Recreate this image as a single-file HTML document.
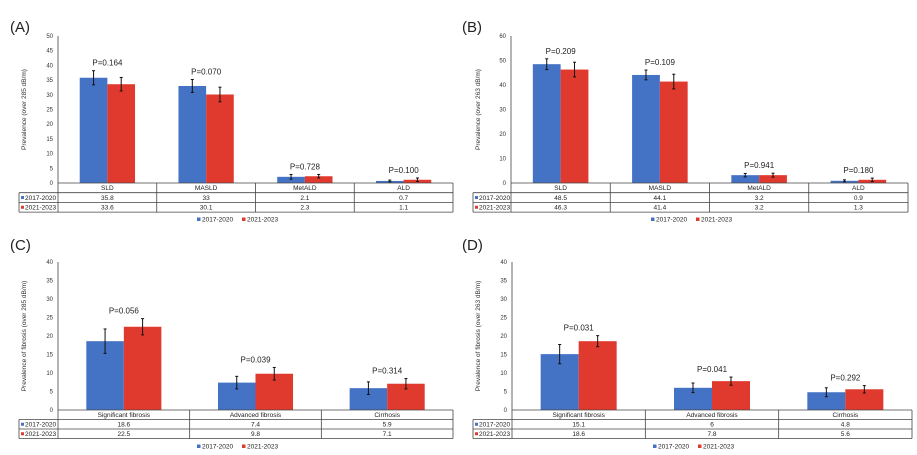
<!DOCTYPE html>
<html><head><meta charset="utf-8"><style>
body{margin:0;background:#fff;width:917px;height:455px;overflow:hidden;font-family:"Liberation Sans",sans-serif}
svg{display:block}
</style></head><body>
<svg id="fig" width="917" height="455" font-family="Liberation Sans, sans-serif"></svg>
<script>
const NS="http://www.w3.org/2000/svg";
const seriesNames=["2017-2020","2021-2023"];
const catsAB=["SLD","MASLD","MetALD","ALD"];
const catsCD=["Significant fibrosis","Advanced fibrosis","Cirrhosis"];
const aBlue=[35.8,33,2.1,0.7], aRed=[33.6,30.1,2.3,1.1];
const aBlueErr=[2.4,2.2,0.8,0.3], aRedErr=[2.3,2.5,0.6,0.6];
const aP=["P=0.164","P=0.070","P=0.728","P=0.100"];
const aLabels=["35.8","33","2.1","0.7"], aLabels2=["33.6","30.1","2.3","1.1"];
const bBlue=[48.5,44.1,3.2,0.9], bRed=[46.3,41.4,3.2,1.3];
const bBlueErr=[2.2,2,0.7,0.4], bRedErr=[3,3,0.8,0.7];
const bP=["P=0.209","P=0.109","P=0.941","P=0.180"];
const bLabels=["48.5","44.1","3.2","0.9"], bLabels2=["46.3","41.4","3.2","1.3"];
const cBlue=[18.6,7.4,5.9], cRed=[22.5,9.8,7.1];
const cBlueErr=[3.3,1.7,1.7], cRedErr=[2.2,1.7,1.4];
const cP=["P=0.056","P=0.039","P=0.314"];
const cLabels=["18.6","7.4","5.9"], cLabels2=["22.5","9.8","7.1"];
const dBlue=[15.1,6,4.8], dRed=[18.6,7.8,5.6];
const dBlueErr=[2.6,1.3,1.2], dRedErr=[1.5,1.1,1.0];
const dP=["P=0.031","P=0.041","P=0.292"];
const dLabels=["15.1","6","4.8"], dLabels2=["18.6","7.8","5.6"];
const ticksA=[0,5,10,15,20,25,30,35,40,45,50];
const ticksB=[0,10,20,30,40,50,60];
const ticksCD=[0,5,10,15,20,25,30,35,40];
const svg=document.getElementById('fig');
function el(tag,attrs,parent,text){const e=document.createElementNS(NS,tag);for(const k in attrs)e.setAttribute(k,attrs[k]);if(text!==undefined)e.textContent=text;(parent||svg).appendChild(e);return e;}
function panel(o){
  const g=el('g',{});
  
  
  const maxV=o.ticks[o.ticks.length-1];
  const y=v=>o.y0-(v/maxV)*(o.y0-o.yTop);
  const n=o.cats.length, cw=(o.xR-o.x0)/n;
  const lab=el('text',{x:o.lx,y:o.ly,'font-size':15,fill:'#222'},g,'('+o.id+')');
  
  o.ticks.forEach(t=>{const tx=el('text',{x:o.x0-5,y:y(t)+2,'font-size':6,'text-anchor':'end',fill:'#333'},g,t);
    });
  el('line',{x1:o.x0,y1:o.yTop,x2:o.x0,y2:o.y0,stroke:'#444','stroke-width':0.8},g);
  const yt=el('text',{transform:`translate(${o.titleX},${(o.yTop+o.y0)/2}) rotate(-90)`,'font-size':6.5,'text-anchor':'middle',fill:'#333'},g,o.title);
  
  const bw=cw*o.bf, off=(cw-2*bw)/2;
  o.cats.forEach((c,i)=>{
    const cx=o.x0+i*cw;
    [[o.blue,o.blueErr,'#4472c4'],[o.red,o.redErr,'#e03a2f']].forEach((s,j)=>{
      const bx=cx+off+j*bw, v=s[0][i];
      const r=el('rect',{x:bx,y:y(v),width:bw,height:o.y0-y(v),fill:s[2]},g);
      
      
      const ex=bx+bw/2, e=s[1][i];
      el('line',{x1:ex,y1:y(v+e),x2:ex,y2:y(v-e),stroke:'#111','stroke-width':1},g);
      el('line',{x1:ex-1.5,y1:y(v+e),x2:ex+1.5,y2:y(v+e),stroke:'#111','stroke-width':1},g);
      el('line',{x1:ex-1.5,y1:y(v-e),x2:ex+1.5,y2:y(v-e),stroke:'#111','stroke-width':1},g);
    });
    const top=Math.min(y(o.blue[i]+o.blueErr[i]),y(o.red[i]+o.redErr[i]));
    const p=el('text',{x:cx+cw/2,y:top-5,'font-size':8,'text-anchor':'middle',fill:'#222'},g,o.p[i]);
    
  });
  // table
  const r1=o.y0+o.rh, r2=r1+o.rh, r3=r2+o.rh;
  const st={stroke:'#444','stroke-width':0.8};
  el('line',Object.assign({x1:o.x0,y1:o.y0,x2:o.xR,y2:o.y0},st),g);
  [r1,r2,r3].forEach(yy=>el('line',Object.assign({x1:o.tl,y1:yy,x2:o.xR,y2:yy},st),g));
  el('line',Object.assign({x1:o.tl,y1:r1,x2:o.tl,y2:r3},st),g);
  for(let i=0;i<=n;i++){const xx=o.x0+i*cw;el('line',Object.assign({x1:xx,y1:o.y0,x2:xx,y2:r3},st),g);}
  o.cats.forEach((c,i)=>{const xm=o.x0+i*cw+cw/2;
    const t=el('text',{x:xm,y:o.y0+o.rh-2.5,'font-size':6.5,'text-anchor':'middle',fill:'#222'},g,c);
    
    el('text',{x:xm,y:r1+o.rh-2.5,'font-size':6.5,'text-anchor':'middle',fill:'#222'},g,o.l1[i]);
    el('text',{x:xm,y:r2+o.rh-2.5,'font-size':6.5,'text-anchor':'middle',fill:'#222'},g,o.l2[i]);
  });
  [['#4472c4',r1],['#e03a2f',r2]].forEach((s,j)=>{
    el('rect',{x:o.tl+2,y:s[1]+o.rh/2-1.5,width:3,height:3,fill:s[0]},g);
    el('text',{x:o.tl+6,y:s[1]+o.rh-2.5,'font-size':6.5,fill:'#222'},g,seriesNames[j]);
  });
  // legend
  const lg=el('g',{},g);
  
  const lx=o.legX;
  [['#4472c4',lx],['#e03a2f',lx+45]].forEach((s,j)=>{
    el('rect',{x:s[1],y:o.legY-2.5,width:3.5,height:3.5,fill:s[0]},lg);
    const t=el('text',{x:s[1]+5,y:o.legY+1.5,'font-size':6.5,fill:'#222'},lg,seriesNames[j]);
    
  });
}
panel({id:'A',cats:catsAB,blue:aBlue,red:aRed,blueErr:aBlueErr,redErr:aRedErr,p:aP,l1:aLabels,l2:aLabels2,ticks:ticksA,
  x0:58,xR:453,yTop:36,y0:183,rh:9.7,tl:19,lx:10,ly:32,titleX:26,title:'Prevalence (over 285 dB/m)',bf:0.28,legX:197,legY:220});
panel({id:'B',cats:catsAB,blue:bBlue,red:bRed,blueErr:bBlueErr,redErr:bRedErr,p:bP,l1:bLabels,l2:bLabels2,ticks:ticksB,
  x0:511,xR:908,yTop:36,y0:183,rh:9.7,tl:473,lx:462,ly:32,titleX:480,title:'Prevalence (over 263 dB/m)',bf:0.28,legX:651,legY:220});
panel({id:'C',cats:catsCD,blue:cBlue,red:cRed,blueErr:cBlueErr,redErr:cRedErr,p:cP,l1:cLabels,l2:cLabels2,ticks:ticksCD,
  x0:58,xR:453,yTop:262,y0:410,rh:9.5,tl:19,lx:10,ly:250,titleX:26,title:'Prevalence of fibrosis (over 285 dB/m)',bf:0.285,legX:197,legY:447});
panel({id:'D',cats:catsCD,blue:dBlue,red:dRed,blueErr:dBlueErr,redErr:dRedErr,p:dP,l1:dLabels,l2:dLabels2,ticks:ticksCD,
  x0:512,xR:912,yTop:262,y0:410,rh:9.5,tl:473,lx:462,ly:250,titleX:480,title:'Prevalence of fibrosis (over 263 dB/m)',bf:0.285,legX:653,legY:447});
</script>
</body></html>
